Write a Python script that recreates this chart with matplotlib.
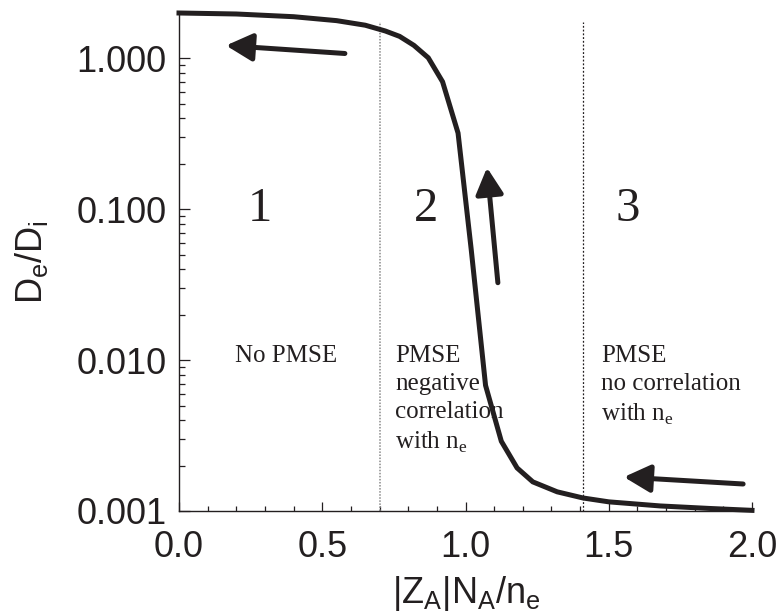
import matplotlib
matplotlib.use("Agg")
import matplotlib.pyplot as plt
import matplotlib.ticker as mticker

plt.rcParams["font.family"] = "Liberation Sans"
INK = "#231f20"

# ratio of diffusion coefficients vs. normalised aerosol charge density
ratio_x = [0.0, 0.2, 0.4, 0.55, 0.65, 0.72, 0.77, 0.82, 0.87, 0.92, 0.974,
           1.02, 1.07, 1.125, 1.18, 1.235, 1.32, 1.41, 1.5, 1.68, 1.85, 2.0]
ratio_y = [2.00, 1.97, 1.89, 1.78, 1.66, 1.52, 1.40, 1.22, 1.01, 0.70, 0.32,
           0.054, 0.0068, 0.0029, 0.00193, 0.00156, 0.00134, 0.00122,
           0.00115, 0.00108, 0.00104, 0.00101]

region_bounds = [0.7, 1.41]
region_ids = ["1", "2", "3"]
region_id_x = [0.283, 0.862, 1.567]
region_notes = ["No PMSE",
                "PMSE\nnegative\ncorrelation\nwith n$_\\mathregular{e}$",
                "PMSE\nno correlation\nwith n$_\\mathregular{e}$"]
region_note_x = [0.195, 0.754, 1.473]

# arrows: (tail x, tail y, head x, head y)
arrows = [(0.579, 1.078, 0.164, 1.218),
          (1.113, 0.0326, 1.075, 0.189),
          (1.969, 0.00151, 1.553, 0.00168)]

fig = plt.figure(figsize=(7.82, 6.16), dpi=100)
ax = fig.add_axes([179 / 782, 1 - 511 / 616, 573 / 782, 498 / 616])

ax.plot(ratio_x, ratio_y, color=INK, lw=3.6, solid_joinstyle="miter", clip_on=False, zorder=3)

ax.vlines(region_bounds[0], 0.001, 1.75, color="#8a8a8a", lw=1.1, linestyles=(0, (1, 1)))
ax.vlines(region_bounds[1], 0.001, 1.75, color=INK, lw=0.9, linestyles=(0, (1.5, 1.5)))

for label, x in zip(region_ids, region_id_x):
    ax.text(x, 0.1, label, family="Liberation Serif", fontsize=35, color=INK,
            ha="center", va="center")

note_top = 10 ** (-3 + (511 - 345) / 150.7)
for note, x in zip(region_notes, region_note_x):
    ax.text(x, note_top, note, family="Liberation Serif", fontsize=18, color=INK,
            ha="left", va="top", linespacing=1.36)

for x0, y0, x1, y1 in arrows:
    ax.annotate("", xy=(x1, y1), xytext=(x0, y0),
                arrowprops=dict(arrowstyle="-|>,head_length=0.8,head_width=0.42",
                                mutation_scale=20, lw=3.6, color=INK,
                                shrinkA=0, shrinkB=0))

ax.set_yscale("log")
ax.set_xlim(0, 2.0)
ax.set_ylim(0.001, 2.0)

ax.xaxis.set_major_locator(mticker.MultipleLocator(0.5))
ax.xaxis.set_minor_locator(mticker.MultipleLocator(0.1))
ax.xaxis.set_major_formatter(mticker.FormatStrFormatter("%.1f"))
ax.yaxis.set_major_locator(mticker.FixedLocator([0.001, 0.01, 0.1, 1.0]))
ax.yaxis.set_minor_locator(mticker.FixedLocator(
    [k * 10.0 ** d for d in (-3, -2, -1) for k in range(2, 10)]))
ax.yaxis.set_major_formatter(mticker.FormatStrFormatter("%.3f"))
ax.yaxis.set_minor_formatter(mticker.NullFormatter())

for side in ("top", "right"):
    ax.spines[side].set_visible(False)
for side in ("left", "bottom"):
    ax.spines[side].set_color(INK)
    ax.spines[side].set_linewidth(1.0)

ax.tick_params(which="both", direction="in", color=INK, labelcolor=INK,
               labelsize=26, width=0.9)
ax.tick_params(axis="y", which="major", length=8, pad=9)
ax.tick_params(axis="y", which="minor", length=4)
ax.tick_params(axis="x", which="major", length=6.5, pad=14)
ax.tick_params(axis="x", which="minor", length=3.6)

fig.text(31 / 782, 1 - 262 / 616, "D$_\\mathregular{e}$/D$_\\mathregular{i}$",
         rotation=90, ha="center", va="center", fontsize=26, color=INK)
fig.text(466 / 782, 1 - 603 / 616,
         "|Z$_\\mathregular{A}$|N$_\\mathregular{A}$/n$_\\mathregular{e}$",
         ha="center", va="baseline", fontsize=26, color=INK)

fig.savefig("out.png", dpi=100, facecolor="white")
